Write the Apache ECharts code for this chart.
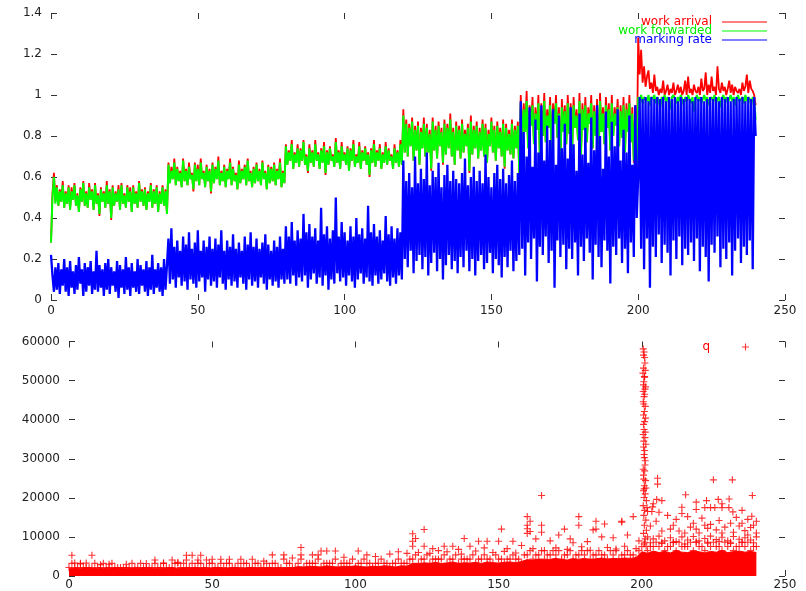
<!DOCTYPE html>
<html><head><meta charset="utf-8">
<script src="https://cdn.jsdelivr.net/npm/echarts@6/dist/echarts.min.js"></script>
<style>html,body{margin:0;padding:0;background:#fff}#c{width:806px;height:591px}</style>
</head><body><div id="c"></div>
<script>
// ---- top panel: one sample every 0.5 time units (t = 0, 0.5, ..., 240) ----
const workArrival = [0.28,0.52,0.62,0.48,
 0.56,0.46,0.54,0.48,0.58,0.45,0.53,0.47,0.56,0.44, 0.55,0.49,0.57,0.46,0.52,0.43,0.55,0.48,0.58,0.46,
 0.53,0.45,0.57,0.49,0.54,0.44,0.57,0.47,0.52,0.41, 0.55,0.48,0.53,0.45,0.58,0.47,0.54,0.39,0.56,0.46,
 0.53,0.48,0.56,0.44,0.57,0.47,0.52,0.45,0.56,0.48, 0.55,0.43,0.56,0.47,0.53,0.45,0.58,0.48,0.54,0.46,
 0.55,0.44,0.53,0.48,0.57,0.45,0.54,0.47,0.56,0.43, 0.53,0.47,0.56,0.46,0.54,0.42,
 0.67,0.57,0.65,0.59,0.69,0.56,0.65,0.58,0.63,0.55, 0.69,0.58,0.64,0.56,0.67,0.59,0.62,0.53,0.67,0.58,
 0.66,0.56,0.69,0.59,0.63,0.55,0.66,0.58,0.64,0.52, 0.67,0.57,0.65,0.59,0.70,0.56,0.63,0.58,0.66,0.55,
 0.64,0.59,0.69,0.56,0.65,0.58,0.62,0.54,0.68,0.57, 0.64,0.59,0.66,0.56,0.69,0.58,0.63,0.55,0.65,0.57,
 0.67,0.58,0.64,0.56,0.68,0.59,0.63,0.54,0.66,0.57, 0.65,0.58,0.67,0.56,0.64,0.59,0.69,0.55,0.63,0.57,
 0.76,0.66,0.73,0.68,0.78,0.64,0.72,0.67,0.76,0.65, 0.74,0.68,0.78,0.66,0.71,0.62,0.76,0.67,0.73,0.65,
 0.78,0.68,0.72,0.64,0.74,0.67,0.77,0.61,0.73,0.66, 0.75,0.68,0.71,0.65,0.79,0.67,0.73,0.64,0.77,0.68,
 0.72,0.66,0.75,0.63,0.74,0.68,0.78,0.65,0.71,0.67, 0.77,0.64,0.73,0.68,0.75,0.66,0.72,0.60,0.74,0.67,
 0.78,0.65,0.73,0.68,0.76,0.64,0.72,0.67,0.77,0.66, 0.74,0.68,0.71,0.64,0.76,0.67,0.73,0.65,0.78,0.66,
 0.93,0.72,0.88,0.70,0.86,0.75,0.89,0.68,0.85,0.73, 0.87,0.66,0.84,0.74,0.89,0.70,0.86,0.72,0.83,0.63,
 0.89,0.73,0.85,0.69,0.87,0.75,0.84,0.66,0.88,0.71, 0.86,0.74,0.91,0.70,0.84,0.66,0.87,0.73,0.85,0.69,
 0.88,0.72,0.83,0.75,0.86,0.62,0.90,0.71,0.85,0.74, 0.87,0.69,0.84,0.73,0.88,0.70,0.86,0.67,0.83,0.75,
 0.89,0.72,0.85,0.68,0.87,0.74,0.84,0.70,0.88,0.64, 0.86,0.73,0.83,0.71,0.88,0.69,0.85,0.74,0.87,0.61,
 1.00,0.78,0.96,0.82,1.02,0.74,0.95,0.85,0.99,0.76, 0.94,0.83,1.00,0.70,0.96,0.80,1.01,0.77,0.93,0.84,
 0.99,0.72,0.96,0.86,1.00,0.79,0.94,0.67,0.98,0.82, 0.95,0.76,1.00,0.81,0.96,0.73,0.99,0.84,0.93,0.78,
 1.01,0.71,0.96,0.83,0.99,0.77,0.94,0.86,1.00,0.74, 0.95,0.80,0.98,0.69,1.01,0.82,0.94,0.76,0.99,0.84,
 0.96,0.73,1.00,0.80,0.94,0.85,0.98,0.75,0.95,0.79, 0.99,0.72,0.96,0.82,1.00,0.77,0.94,0.67,0.95,0.65,
 1.28,1.10,1.22,1.06,1.14,1.04,1.09,1.12,1.03,1.06, 1.01,1.10,1.02,1.04,1.00,1.03,1.01,1.07,1.00,1.02,
 1.05,1.00,1.03,1.01,1.06,1.00,1.02,1.05,1.01,1.04, 1.00,1.02,1.07,1.00,1.09,1.01,1.03,1.00,1.05,1.02,
 1.01,1.04,1.00,1.08,1.02,1.03,1.11,1.00,1.05,1.01, 1.09,1.02,1.04,1.00,1.14,1.03,1.01,1.06,1.02,1.04,
 1.00,1.03,1.07,1.01,1.05,1.00,1.04,1.02,1.01,1.03, 1.00,1.06,1.02,1.04,1.10,1.01,1.07,1.03,1.02,1.00,
 0.95];

const workForwarded = [0.28,0.50,0.60,0.47,
 0.55,0.46,0.53,0.48,0.56,0.45,0.52,0.47,0.55,0.44, 0.53,0.49,0.56,0.46,0.51,0.43,0.54,0.48,0.57,0.46,
 0.52,0.45,0.55,0.49,0.53,0.44,0.56,0.47,0.51,0.42, 0.54,0.48,0.52,0.45,0.56,0.47,0.53,0.40,0.55,0.46,
 0.52,0.48,0.54,0.44,0.56,0.47,0.51,0.45,0.55,0.48, 0.53,0.43,0.55,0.47,0.52,0.45,0.57,0.48,0.53,0.46,
 0.54,0.44,0.52,0.48,0.56,0.45,0.53,0.47,0.55,0.43, 0.52,0.47,0.55,0.46,0.53,0.42,
 0.66,0.57,0.63,0.59,0.67,0.56,0.64,0.58,0.62,0.55, 0.68,0.58,0.63,0.56,0.65,0.59,0.61,0.54,0.66,0.58,
 0.64,0.56,0.67,0.59,0.62,0.55,0.65,0.58,0.63,0.53, 0.66,0.57,0.64,0.59,0.68,0.56,0.62,0.58,0.65,0.55,
 0.63,0.59,0.67,0.56,0.64,0.58,0.61,0.54,0.66,0.57, 0.63,0.59,0.65,0.56,0.68,0.58,0.62,0.55,0.64,0.57,
 0.66,0.58,0.63,0.56,0.67,0.59,0.62,0.54,0.65,0.57, 0.64,0.58,0.66,0.56,0.63,0.59,0.67,0.55,0.62,0.57,
 0.75,0.66,0.72,0.68,0.76,0.64,0.71,0.67,0.74,0.65, 0.73,0.68,0.77,0.66,0.70,0.63,0.74,0.67,0.72,0.65,
 0.76,0.68,0.71,0.64,0.73,0.67,0.75,0.62,0.72,0.66, 0.74,0.68,0.70,0.65,0.77,0.67,0.72,0.64,0.75,0.68,
 0.71,0.66,0.74,0.63,0.73,0.68,0.76,0.65,0.70,0.67, 0.75,0.64,0.72,0.68,0.74,0.66,0.71,0.61,0.73,0.67,
 0.76,0.65,0.72,0.68,0.74,0.64,0.71,0.67,0.75,0.66, 0.73,0.68,0.70,0.64,0.74,0.67,0.72,0.65,0.76,0.66,
 0.90,0.72,0.86,0.70,0.84,0.75,0.87,0.68,0.83,0.73, 0.85,0.66,0.82,0.74,0.86,0.70,0.84,0.72,0.81,0.64,
 0.87,0.73,0.83,0.69,0.85,0.75,0.82,0.67,0.86,0.71, 0.84,0.74,0.88,0.70,0.82,0.66,0.85,0.73,0.83,0.69,
 0.86,0.72,0.81,0.75,0.84,0.63,0.87,0.71,0.83,0.74, 0.85,0.69,0.82,0.73,0.86,0.70,0.84,0.67,0.81,0.75,
 0.87,0.72,0.83,0.68,0.85,0.74,0.82,0.70,0.86,0.65, 0.84,0.73,0.81,0.71,0.86,0.69,0.83,0.74,0.85,0.62,
 0.96,0.78,0.93,0.82,0.97,0.74,0.92,0.85,0.95,0.76, 0.91,0.83,0.96,0.70,0.93,0.80,0.97,0.77,0.90,0.84,
 0.95,0.72,0.93,0.86,0.96,0.79,0.91,0.68,0.94,0.82, 0.92,0.76,0.96,0.81,0.93,0.73,0.95,0.84,0.90,0.78,
 0.97,0.71,0.93,0.83,0.95,0.77,0.91,0.86,0.96,0.74, 0.92,0.80,0.94,0.69,0.97,0.82,0.91,0.76,0.95,0.84,
 0.93,0.73,0.96,0.80,0.91,0.85,0.94,0.75,0.92,0.79, 0.95,0.72,0.93,0.82,0.96,0.77,0.91,0.68,0.90,0.66,
 0.99,0.97,1.00,0.96,0.99,0.98,0.97,1.00,0.95,0.99, 0.98,1.00,0.96,0.99,0.97,0.94,0.99,0.98,1.00,0.96,
 0.99,0.97,0.93,0.99,1.00,0.98,0.96,0.99,0.97,1.00, 0.98,0.95,0.99,0.97,1.00,0.98,0.96,0.99,0.92,0.98,
 1.00,0.97,0.99,0.96,0.98,1.00,0.97,0.99,0.95,0.98, 0.99,0.97,1.00,0.96,0.98,0.99,0.94,0.98,1.00,0.97,
 0.99,0.96,0.98,1.00,0.97,0.99,0.95,0.98,1.00,0.97, 0.98,0.99,0.96,1.00,0.97,0.99,0.98,0.95,0.99,0.97,
 0.88];

const markingRate = [0.22,0.12,0.04,0.16,
 0.05,0.18,0.03,0.15,0.07,0.20,0.04,0.16,0.02,0.19, 0.06,0.14,0.03,0.17,0.05,0.21,0.08,0.15,0.02,0.18,
 0.04,0.16,0.07,0.19,0.03,0.14,0.05,0.24,0.04,0.17, 0.06,0.15,0.02,0.18,0.05,0.20,0.03,0.16,0.07,0.14,
 0.04,0.19,0.01,0.17,0.06,0.15,0.03,0.21,0.05,0.16, 0.02,0.18,0.06,0.14,0.04,0.20,0.03,0.17,0.07,0.15,
 0.04,0.19,0.02,0.16,0.05,0.22,0.03,0.15,0.06,0.18, 0.04,0.16,0.02,0.20,0.05,0.17,
 0.30,0.08,0.35,0.10,0.26,0.06,0.29,0.11,0.24,0.07, 0.31,0.09,0.27,0.05,0.33,0.10,0.25,0.08,0.28,0.06,
 0.34,0.09,0.24,0.11,0.29,0.04,0.26,0.10,0.31,0.07, 0.25,0.09,0.30,0.06,0.27,0.11,0.34,0.08,0.24,0.05,
 0.29,0.10,0.26,0.07,0.32,0.09,0.25,0.06,0.28,0.11, 0.24,0.08,0.31,0.05,0.27,0.10,0.33,0.07,0.26,0.09,
 0.30,0.06,0.25,0.11,0.28,0.08,0.32,0.05,0.27,0.10, 0.24,0.07,0.29,0.09,0.26,0.06,0.31,0.10,0.25,0.08,
 0.36,0.10,0.31,0.08,0.38,0.12,0.29,0.07,0.34,0.11, 0.30,0.09,0.42,0.12,0.33,0.06,0.37,0.10,0.31,0.13,
 0.35,0.08,0.29,0.11,0.45,0.07,0.32,0.12,0.36,0.05, 0.30,0.10,0.34,0.08,0.50,0.13,0.31,0.09,0.38,0.11,
 0.33,0.07,0.29,0.12,0.36,0.09,0.31,0.06,0.40,0.10, 0.32,0.13,0.35,0.08,0.30,0.11,0.46,0.09,0.33,0.07,
 0.37,0.12,0.31,0.08,0.34,0.10,0.29,0.13,0.41,0.09, 0.32,0.07,0.36,0.11,0.30,0.08,0.35,0.12,0.33,0.10,
 0.68,0.20,0.58,0.16,0.62,0.24,0.55,0.13,0.70,0.19, 0.57,0.22,0.64,0.15,0.59,0.21,0.72,0.12,0.56,0.18,
 0.63,0.23,0.60,0.14,0.67,0.20,0.55,0.10,0.61,0.17, 0.66,0.22,0.58,0.15,0.63,0.19,0.59,0.13,0.57,0.21,
 0.62,0.16,0.69,0.24,0.56,0.14,0.60,0.20,0.65,0.12, 0.58,0.19,0.63,0.22,0.57,0.15,0.71,0.18,0.60,0.23,
 0.55,0.13,0.62,0.20,0.66,0.17,0.59,0.11,0.64,0.21, 0.57,0.16,0.61,0.24,0.68,0.14,0.58,0.19,0.62,0.22,
 0.97,0.25,0.82,0.12,0.70,0.28,0.94,0.20,0.65,0.30, 0.88,0.09,0.72,0.26,0.95,0.22,0.68,0.31,0.85,0.18,
 0.78,0.24,0.93,0.06,0.66,0.29,0.90,0.21,0.74,0.27, 0.86,0.15,0.69,0.25,0.94,0.20,0.76,0.28,0.63,0.12,
 0.91,0.26,0.71,0.19,0.84,0.30,0.67,0.23,0.89,0.10, 0.73,0.27,0.95,0.21,0.80,0.16,0.64,0.29,0.92,0.24,
 0.70,0.08,0.87,0.26,0.75,0.22,0.93,0.30,0.68,0.18, 0.83,0.25,0.72,0.13,0.90,0.28,0.66,0.21,0.95,0.40,
 0.60,0.99,0.25,0.98,0.15,0.99,0.30,0.97,0.06,0.99, 0.26,0.98,0.21,0.99,0.32,0.98,0.18,0.99,0.27,0.97,
 0.23,0.99,0.12,0.98,0.29,0.99,0.20,0.97,0.31,0.99, 0.17,0.98,0.25,0.99,0.22,0.98,0.28,0.97,0.19,0.99,
 0.30,0.98,0.14,0.99,0.26,0.97,0.21,0.98,0.09,0.99, 0.27,0.98,0.23,0.99,0.31,0.97,0.16,0.99,0.25,0.98,
 0.20,0.99,0.28,0.97,0.12,0.98,0.24,0.99,0.30,0.98, 0.18,0.99,0.26,0.97,0.22,0.99,0.29,0.98,0.15,0.99,
 0.80];

// ---- bottom panel: queue q ----
// saturated part of the point cloud (top of the solid band), every 2 time units (t = 0,2,...,240)
const qDenseTop = [
 2000,1900,2000,2100,1900,2000,1900,2000,2100,1900, 2000,1900,2000,2100,1900,2000,2000,1900,2100,2000,
 2100,2000,2200,2100,2000,2100,2200,2000,2100,2200, 2000,2100,2200,2100,2000,2200,2100,2000,2200,2100,
 2400,2300,2500,2400,2300,2600,2400,2300,2500,2400, 2600,2400,2300,2500,2400,2600,2500,2300,2600,2500,
 3300,3100,3400,3200,3500,3200,3300,3600,3200,3400, 3300,3500,3200,3600,3400,3300,3500,3600,3400,3700,
 4200,4000,4400,4100,4300,4500,4200,4100,4400,4300, 4500,4200,4400,4600,4300,4500,4400,4600,4500,4700,
 6200,5800,6400,6000,6300,5900,6500,6100,6000,6400, 6200,5900,6300,6100,6500,6000,6200,6400,6100,6300,6000];
// points along the ragged upper edge, even times (t = 0,2,...,240)
const qRowEven = [
 2160,2160,3240,2160,2160,2160,3240,2160,2160,2160, 2160,3240,2160,2160,2160,3240,2160,2160,2160,3240,
 3240,2160,2160,3240,2160,3240,2160,2160,3240,2160, 2160,3240,2160,3240,2160,2160,3240,2160,3240,2160,
 3240,2160,3240,3240,2160,3240,3240,2160,3240,3240, 2160,3240,3240,2160,3240,3240,2160,3240,3240,3240,
 4320,3240,4320,3240,4320,4320,3240,4320,3240,4320, 4320,3240,4320,4320,3240,4320,3240,4320,4320,3240,
 5400,4320,5400,4320,5400,5400,4320,5400,4320,5400, 5400,4320,5400,5400,4320,5400,4320,5400,5400,4320,
 7560,6480,7560,7560,6480,7560,6480,7560,7560,6480, 7560,6480,7560,7560,6480,7560,6480,7560,7560,6480,7560];
// points along the ragged upper edge, odd times (t = 1,3,...,239)
const qRowOdd = [
 3240,2160,2160,2160,3240,2160,2160,3240,2160,2160, 2160,2160,3240,2160,2160,2160,3240,2160,3240,2160,
 2160,3240,3240,2160,3240,2160,3240,3240,2160,3240, 3240,2160,3240,2160,3240,3240,2160,4320,3240,2160,
 4320,3240,3240,4320,3240,3240,4320,3240,3240,4320, 3240,4320,3240,3240,4320,3240,3240,4320,3240,4320,
 5400,4320,5400,4320,4320,5400,4320,5400,4320,4320, 5400,4320,5400,4320,5400,4320,4320,5400,4320,5400,
 6480,5400,6480,5400,6480,6480,5400,6480,5400,6480, 6480,5400,6480,5400,6480,6480,5400,6480,5400,6480,
 8640,7560,8640,8640,7560,8640,8640,7560,8640,8640, 7560,8640,8640,7560,8640,8640,7560,8640,8640,7560];
// isolated points [t, q]
const qOutliers = [
 [1,5300],[8,5300],[2,3300],[4,3100],[6,3300],[11,2900],[14,3000],[20,3000],[30,4100],[36,4100],
 [41,5300],[43,5300],[46,5300],[41,4100],[45,4100],[48,4100],[38,3500],[33,3300],[27,3200],
 [50,4300],[53,4300],[56,4300],[60,4300],[64,4300],[68,3800],[71,5400],[75,5400],[81,7300],[81,5400],
 [85,5400],[88,6400],[90,6400],[93,6400],[87,5400],[101,6400],[104,5400],[96,4800],[78,4600],[107,5000],
 [112,5600],[115,6200],[118,5800],
 [120,10800],[121,9600],[120,8900],[120,7600],[124,11900],[124,7600],[127,7000],[131,7600],[134,7600],
 [138,9600],[140,7600],[143,8900],[146,8900],[150,8900],[151,12000],[155,8900],[136,6800],[129,6500],
 [145,7200],[153,7000],[158,7800],[122,6000],[126,5800],[132,6200],[137,5600],[142,6400],[148,6000],[152,6300],[156,5900],
 [160,15200],[161,14000],[160,13000],[160,12100],[161,11400],[160,10900],[165,20600],[165,13000],[165,11200],
 [171,10500],[173,12000],[178,15200],[178,13000],[184,14000],[184,12000],[187,13300],[183,11800],[193,14000],
 [197,15200],[193,13800],[168,9000],[175,9500],[181,8800],[190,9800],[163,9500],[186,10000],[195,10500],
 [199,9000],[176,8500],[162,7000],[166,6500],[170,7200],[174,6800],[179,7500],[182,6600],[188,7300],[191,6900],[194,7600],[198,7000],
 [200.5,58100],[200.8,57300],[200.6,56500],[201.0,55900],[201.1,54500],[200.6,53200],[201.2,52600],[200.4,51900],
 [200.9,51000],[201.0,50900],[200.7,49700],[200.6,48900],[201.3,48400],[201.1,47800],[200.5,47200],[201.0,46500],
 [200.8,45900],[200.5,44600],[200.7,44000],[201.2,43400],[200.9,42100],[200.6,41200],[201.3,40400],[201.0,39500],
 [200.6,38800],[200.8,37500],[201.2,36800],[200.5,36200],[201.1,35400],[200.7,34500],[201.4,33700],[200.6,33000],
 [201.0,32100],[200.8,31100],[200.9,30300],[201.2,29500],[201.1,28400],[200.5,27300],[201.0,26900],[200.6,25800],
 [200.7,24800],[201.3,24400],[200.9,23100],[201.5,22500],[200.8,22300],[200.6,21800],[201.2,21000],[200.8,20100],
 [201.6,19300],[200.5,18000],[201.0,16800],[201.8,17500],[200.7,15500],[201.4,14300],[200.9,13000],[201.6,11700],
 [200.6,10900],[201.2,9500],[200.8,8200],[201.5,7600],
 [205.5,25000],[205.5,23500],[225,24600],[231.6,24600],[238.6,20600],[215.3,20800],[205.2,19600],[207,19300],
 [204,18500],[203.8,17700],[219,18900],[222.6,19300],[226.7,19600],[230.5,19700],[228,18500],[214,17600],
 [219,17000],[222,17500],[224,17500],[225.5,17500],[228,17500],[230.4,17500],[231.8,16400],[235,16800],
 [214,16000],[238.4,15300],[202,16500],[203.5,16500],[206,16300],
 [209,15500],[212,14500],[216,15200],[218,13500],[221,14800],[224,13200],[227,14200],[233,15000],[235,13500],
 [237,14500],[239,13000],[240,14000],[210,12000],[213,11500],[217,12500],[220,11000],[223,12200],[226,11800],
 [229,12500],[232,11200],[234,12800],[236,11600],[238,12400],[240,11000],[203,12800],[205,14000],[207,11500],
 [211,13000],[215,11000],[219,12000],[222,13000],[228,11000],[231,13500],[237,10500],
 [202,10000],[204,9500],[206,10200],[208,9000],[210,9800],[212,8800],[214,10000],[216,9200],[218,10100],
 [220,9000],[222,9600],[224,10200],[226,9300],[228,9900],[230,9000],[232,10100],[234,9400],[236,9800],
 [238,9200],[240,10000],[203,8500],[207,8300],[211,8600],[215,8200],[219,8700],[223,8400],[227,8800],
 [231,8300],[235,8600],[239,8500]];

const xTicks = [0, 50, 100, 150, 200, 250];

const FONT = 'DejaVu Sans';
const PLUS = 'path://M0,4.2h10v1.6h-10z M4.2,0h1.6v10h-1.6z';
const tickStyle = {color:'#333', width:1};
const lbl = {fontFamily:FONT, fontSize:12, color:'#222'};

function xAx(grid, pos, show, margin){
  return {gridIndex:grid, type:'value', position:pos, min:xTicks[0], max:xTicks[xTicks.length-1], interval:50,
    axisLine:{show:false, onZero:false}, splitLine:{show:false},
    axisTick:{show:true, inside:true, length:6, lineStyle:tickStyle},
    axisLabel:{show:show, margin:margin, ...lbl}};
}
function yAx(grid, pos, show, max, interval){
  return {gridIndex:grid, type:'value', position:pos, min:0, max:max, interval:interval,
    axisLine:{show:false, onZero:false}, splitLine:{show:false},
    axisTick:{show:true, inside:true, length:6, lineStyle:tickStyle},
    axisLabel:{show:show, margin:9, ...lbl, formatter:(v)=>String(+v.toFixed(4))}};
}
function lineLegend(name, color, top){
  return {data:[{name:name, textStyle:{color:color}}], orient:'vertical', right:39, top:top, align:'right',
    icon:'rect', itemWidth:45, itemHeight:1.2, padding:0, itemGap:0, selectedMode:false,
    textStyle:{fontFamily:FONT, fontSize:12, color:color, padding:[0,5,0,0]}};
}
const half = (arr)=>arr.map((v,i)=>[i/2, v]);

const option = {
  animation:false,
  backgroundColor:'#ffffff',
  grid:[{left:51, right:21, top:13, height:287}, {left:69, right:21, top:341.5, height:237}],
  xAxis:[xAx(0,'bottom',true,5), xAx(0,'top',false,5), xAx(1,'bottom',true,3), xAx(1,'top',false,3)],
  yAxis:[yAx(0,'left',true,1.4,0.2), yAx(0,'right',false,1.4,0.2), yAx(1,'left',true,60000,10000), yAx(1,'right',false,60000,10000)],
  legend:[
    lineLegend('work arrival','#ff0000',16),
    lineLegend('work forwarded','#00ee00',25),
    lineLegend('marking rate','#0000ff',34),
    {data:[{name:'q', textStyle:{color:'#ff0000'}}], right:57, top:341, align:'right', icon:PLUS,
     itemWidth:7, itemHeight:7, padding:0, selectedMode:false,
     textStyle:{fontFamily:FONT, fontSize:12, color:'#ff0000', padding:[0,27,0,0]}}
  ],
  series:[
    {name:'work arrival', type:'line', xAxisIndex:0, yAxisIndex:0, showSymbol:false, symbol:'none',
     data:half(workArrival), lineStyle:{color:'#ff0000', width:1.8, join:'bevel'}, itemStyle:{color:'#ff0000'}},
    {name:'work forwarded', type:'line', xAxisIndex:0, yAxisIndex:0, showSymbol:false, symbol:'none',
     data:half(workForwarded), lineStyle:{color:'#00ff00', width:2, join:'bevel'}, itemStyle:{color:'#00ff00'}},
    {name:'marking rate', type:'line', xAxisIndex:0, yAxisIndex:0, showSymbol:false, symbol:'none',
     data:half(markingRate), lineStyle:{color:'#0000ff', width:2.3, join:'bevel'}, itemStyle:{color:'#0000ff'}},
    {name:'q dense', type:'line', xAxisIndex:2, yAxisIndex:2, showSymbol:false, symbol:'none', silent:true,
     data:qDenseTop.map((v,i)=>[2*i,v]), lineStyle:{color:'#ff0000', width:1}, areaStyle:{color:'#ff0000', opacity:1}},
    {name:'q', type:'scatter', xAxisIndex:2, yAxisIndex:2, symbol:PLUS, symbolSize:7,
     itemStyle:{color:'#ff0000'},
     data:qRowEven.map((v,i)=>[2*i,v]).concat(qRowOdd.map((v,i)=>[2*i+1,v]), qOutliers)}
  ]
};
const chart = echarts.init(document.getElementById('c'), null, {renderer:'canvas'});
chart.setOption(option);
</script></body></html>
